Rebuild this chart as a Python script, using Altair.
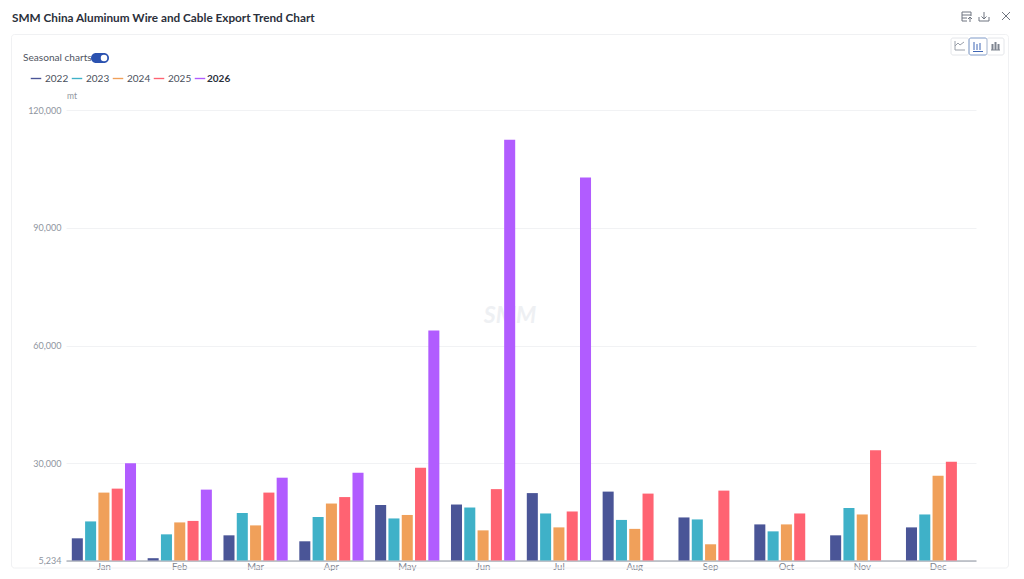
import altair as alt
import pandas as pd

months = ["Jan","Feb","Mar","Apr","May","Jun","Jul","Aug","Sep","Oct","Nov","Dec"]
years = ["2022","2023","2024","2025","2026"]
colors = ["#4a5597","#3fb1c8","#f0a05a","#ff6372","#b15cff"]
v2022 = [10886,5823,11646,10127,19367,19494,22405,22785,16203,14430,11646,13671]
v2023 = [15190,11899,17342,16329,15949,18734,17215,15570,15696,12658,18608,16962]
v2024 = [22532,14937,14177,19747,16835,12911,13671,13291,9367,14430,16962,26835]
v2025 = [23544,15316,22532,21392,28861,23418,17722,22278,23038,17215,33291,30380]
v2026 = [30000,23291,26329,27595,63797,112405,102785]
y_ticks = [5234,30000,60000,90000,120000]
FONT = "Lato"

rows = []
for yr, vals in zip(years, [v2022,v2023,v2024,v2025,v2026]):
    for m, v in zip(months, vals):
        rows.append({"month": m, "year": yr, "value": v})
df = pd.DataFrame(rows)
one = pd.DataFrame({"a": [0]})

def px(x): return x - 66
def py(y): return y - 110

def lines(segs, color, width=1):
    d = pd.DataFrame([{"x": px(a), "y": py(b), "x2": px(c), "y2": py(e)} for a, b, c, e in segs])
    return alt.Chart(d).mark_rule(color=color, strokeWidth=width).encode(
        x=alt.X("x:Q", scale=None, axis=None), y=alt.Y("y:Q", scale=None, axis=None),
        x2="x2:Q", y2="y2:Q")

def box(x0, y0, x1, y1, fill="transparent", stroke="transparent", r=0, sw=1):
    return alt.Chart(one).mark_rect(fill=fill, stroke=stroke, strokeWidth=sw, cornerRadius=r).encode(
        x=alt.value(px(x0)), x2=alt.value(px(x1)), y=alt.value(py(y0)), y2=alt.value(py(y1)))

def label(s, x, y, size, color, weight="normal", align="left", style="normal"):
    return alt.Chart(one).mark_text(text=s, fontSize=size, color=color, fontWeight=weight, font=FONT,
                                    align=align, baseline="middle", fontStyle=style).encode(
        x=alt.value(px(x)), y=alt.value(py(y)))

bars = alt.Chart(df).mark_bar().encode(
    x=alt.X("month:N", sort=months, title=None,
            scale=alt.Scale(paddingInner=0.153, paddingOuter=0.0765),
            axis=alt.Axis(labelAngle=0, labelFontSize=9.5, labelColor="#7f8590", labelFont=FONT,
                          domainColor="#8a909c", ticks=False, labelPadding=1, grid=False)),
    xOffset=alt.XOffset("year:N", sort=years, scale=alt.Scale(paddingInner=0.17, paddingOuter=0)),
    y=alt.Y("value:Q", title=None,
            scale=alt.Scale(domain=[5234,120000], nice=False, zero=False, clamp=True),
            axis=alt.Axis(values=y_ticks, format=",.0f", labelFontSize=9, labelColor="#8f95a0", labelFont=FONT,
                          domain=False, ticks=False, labelPadding=5, gridColor="#f1f2f4")),
    color=alt.Color("year:N", sort=years, scale=alt.Scale(domain=years, range=colors),
                    legend=alt.Legend(orient="none", legendX=px(30), legendY=py(72.5), direction="horizontal",
                                      title=None, symbolType="M-1,-0.13H1V0.13H-1Z", symbolSize=110,
                                      labelFontSize=10, labelColor="#4a4f5c", labelFont=FONT,
                                      labelOffset=3, columnPadding=2, padding=0,
                                      labelExpr="datum.label == '2026' ? '' : datum.label")),
)

panel = box(11.5, 34.5, 1008.5, 568, stroke="#f0f1f3", r=3)
watermark = label("SMM", 510, 316, 23, "#eef0f3", "bold", "center", "italic")

icon_line = [(955,46,958,43),(958,43,960,45),(960,45,964,42),(955,41,955,50),(955,50,965,50)]
icon_bar = [(974,42,974,50),(977,44,977,50),(980,43,980,50),(973,51.5,983,51.5)]
icon_stack = [(991,50,1000,50)]
icon_stack_bars = [(992.5,44,992.5,50),(995.5,42,995.5,50),(998.5,44,998.5,50)]
icon_top = [(962,12,971,12),(962,12,962,21),(962,21,967,21),(971,12,971,16),(962,15,971,15),(962,18,967,18),
            (970,22,970,17),(970,17,968,19),(970,17,972,19),
            (984,12,984,19),(984,19,981.5,16.5),(984,19,986.5,16.5),(979,17,979,21),(979,21,989,21),(989,21,989,17),
            (1002,12,1010,20),(1010,12,1002,20)]

layers = [panel, watermark, bars,
    label("SMM China Aluminum Wire and Cable Export Trend Chart", 12, 17.5, 11.75, "#2b303b", "bold"),
    label("Seasonal charts", 23, 57.5, 10.1, "#50555f"),
    box(91, 53, 109, 63, fill="#2b52b0", r=5),
    alt.Chart(one).mark_point(filled=True, color="white", size=42, opacity=1).encode(x=alt.value(px(104)), y=alt.value(py(58))),
    label("2026", 207, 78.5, 10, "#2b303b", "bold"),
    label("mt", 67, 95.5, 8.5, "#8f95a0"),
    box(951, 38, 969, 55, stroke="#e4e6ea", r=2),
    box(969, 38, 987, 55, stroke="#7f9ac8", r=2),
    box(987, 38, 1004, 55, stroke="#e4e6ea", r=2),
    lines(icon_line, "#9aa0aa"),
    lines(icon_bar, "#3f66b5"),
    lines(icon_stack, "#7f8590"),
    lines(icon_stack_bars, "#7f8590", 2),
    lines(icon_top, "#6f7580"),
]

chart = alt.layer(*layers).resolve_scale(x="independent", y="independent").properties(
    width=910, height=450.5,
    padding={"left": 58, "top": 102, "right": 40, "bottom": 10.5},
    autosize=alt.AutoSizeParams(type="none"),
    background="white",
).configure_view(stroke=None)

chart.save("out.html", embed_options={"renderer": "svg", "actions": False})
